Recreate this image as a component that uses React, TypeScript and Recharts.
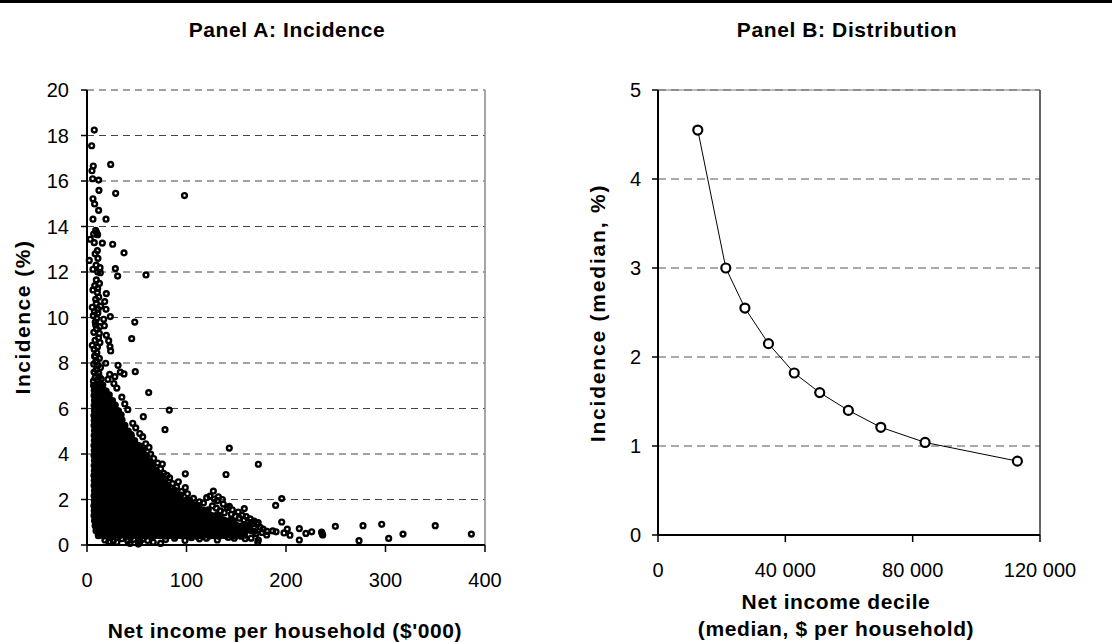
import { ScatterChart, Scatter, LineChart, Line, XAxis, YAxis, CartesianGrid, ReferenceLine } from 'recharts';

const FONT = '"Liberation Sans", Arial, Helvetica, sans-serif';

// Panel A: ticks
const incomeTicksA = [0, 100, 200, 300, 400];
const incidenceTicksA = [0, 2, 4, 6, 8, 10, 12, 14, 16, 18, 20];

// Panel A: [net income $'000, incidence %]
const sparseHighIncidence = [
  [7.3, 18.24], [4.7, 17.55], [6.3, 16.66], [5, 16.45], [5.7, 16.1], [11.7, 16.04], [23.8, 16.73], [12, 15.59],
  [28.8, 15.46], [98, 15.36], [6, 15.22], [7.7, 14.99], [11.7, 14.71], [6, 14.32], [19.1, 14.32], [8.7, 13.83],
  [9.7, 13.73], [10.7, 13.64], [6.7, 13.67], [3.3, 13.44], [7.3, 13.29], [15.4, 13.27], [25.8, 13.22], [37.2, 12.84],
  [10.4, 12.94], [2.3, 12.51], [11, 12.6], [13.1, 12.19], [6, 12.12], [28.5, 12.15], [30.8, 11.82], [13.4, 11.97],
  [59.3, 11.87], [9.4, 11.65], [6, 11.21], [10.7, 11.28], [10.4, 11.1], [19.4, 11.05], [9.4, 10.62], [17.8, 10.7],
  [5.3, 10.45], [11.1, 10.36], [19.1, 10.36], [6.4, 10.08], [23.4, 10.04], [48, 9.8], [9.7, 9.96], [16.8, 9.92],
  [17.4, 9.64], [8.7, 9.67], [12.4, 9.3], [19.4, 9.22], [44.9, 9.07], [5.3, 8.78], [21.8, 8.98], [23.1, 8.72],
  [23.8, 8.53], [8.4, 8.3], [9.5, 8.1], [18.8, 7.99], [31.2, 7.9], [33.5, 7.6], [37.2, 7.52], [48.5, 7.62],
  [22.8, 7.5], [28, 7.4], [21, 7.28],
];

const columnFill = [
  [6.5, 7.2], [8.2, 7.35], [10.1, 7.25], [12.3, 7.4], [7.1, 7.6], [9.4, 7.7], [11.8, 7.55], [14.2, 7.3],
  [6.8, 7.95], [8.9, 8.05], [11, 7.9], [13.5, 7.8], [7.6, 8.3], [9.9, 8.45], [12.4, 8.2], [7.2, 8.6],
  [10.5, 8.7], [13, 8.9], [8.1, 9.0], [11.6, 9.1], [6.9, 9.35], [9.6, 9.5], [12.8, 9.6], [8.3, 9.8],
  [10.9, 10.2], [7.5, 10.25], [13.6, 10.5], [8.7, 10.8], [11.8, 10.9], [7.8, 11.4], [12.5, 11.5], [9.2, 12.3],
  [10.8, 12.0], [8.2, 12.8],
];

const denseBelowOne = [
  [11.4, 0.41], [14.2, 0.44], [17.5, 0.4], [20.3, 0.45], [23.6, 0.42], [26.4, 0.39], [29.8, 0.44], [32.7, 0.41],
  [35.9, 0.46], [38.8, 0.4], [42.1, 0.43], [45, 0.38], [48.3, 0.45], [51.2, 0.42], [54.6, 0.4], [57.5, 0.44],
  [60.7, 0.41], [63.9, 0.46], [66.8, 0.39], [70.1, 0.43], [73.2, 0.41], [76.4, 0.45], [79.3, 0.4], [82.6, 0.42],
  [85.5, 0.44], [88.9, 0.39], [91.8, 0.43], [95.1, 0.41], [98.2, 0.45], [101.4, 0.4], [104.3, 0.42], [107.7, 0.44],
  [110.6, 0.39], [113.9, 0.43], [116.8, 0.41], [120.2, 0.46], [123.1, 0.4], [126.4, 0.42], [129.5, 0.44], [132.8, 0.39],
  [135.7, 0.43], [139, 0.41], [142.1, 0.45], [145.4, 0.4], [148.3, 0.42], [151.6, 0.44], [154.8, 0.39], [158.2, 0.43],
  [9.1, 0.63], [12.3, 0.66], [15.2, 0.62], [18.6, 0.65], [21.5, 0.61], [24.8, 0.67], [27.7, 0.63], [31, 0.65],
  [33.9, 0.62], [37.2, 0.66], [40.1, 0.64], [43.5, 0.61], [46.4, 0.66], [49.7, 0.63], [52.6, 0.65], [56, 0.62],
  [58.9, 0.67], [62.2, 0.64], [65.1, 0.61], [68.5, 0.65], [71.4, 0.63], [74.7, 0.66], [77.6, 0.62], [81, 0.64],
  [83.9, 0.67], [87.2, 0.63], [90.1, 0.65], [93.5, 0.61], [96.4, 0.66], [99.7, 0.64], [102.6, 0.62], [106, 0.65],
  [108.9, 0.63], [112.2, 0.67], [115.1, 0.62], [118.5, 0.64], [121.4, 0.66], [124.7, 0.61], [127.6, 0.65], [131, 0.63],
  [133.9, 0.66], [137.2, 0.62], [140.1, 0.64], [143.5, 0.67], [146.4, 0.63], [149.7, 0.61], [152.6, 0.65], [156, 0.64],
  [158.9, 0.62], [162.2, 0.66], [165.4, 0.63], [168.3, 0.6],
  [8.2, 0.85], [11, 0.88], [14.3, 0.84], [17.1, 0.87], [20.5, 0.85], [23.4, 0.89], [26.6, 0.84], [29.5, 0.86],
  [32.9, 0.88], [35.8, 0.83], [39.1, 0.87], [42, 0.85], [45.4, 0.89], [48.3, 0.84], [51.5, 0.86], [54.4, 0.88],
  [57.8, 0.83], [60.7, 0.87], [63.9, 0.85], [66.8, 0.89], [70.2, 0.84], [73.1, 0.86], [76.3, 0.88], [79.2, 0.83],
  [82.6, 0.87], [85.5, 0.85], [88.7, 0.89], [91.6, 0.84], [95, 0.86], [97.9, 0.88], [101.1, 0.83], [104, 0.87],
  [107.4, 0.85], [110.3, 0.89], [113.5, 0.84], [116.4, 0.86], [119.8, 0.88], [122.7, 0.83], [125.9, 0.87], [128.8, 0.85],
  [132.2, 0.89], [135.1, 0.84], [138.3, 0.86], [141.2, 0.88], [144.6, 0.83], [147.5, 0.87], [150.7, 0.85], [153.6, 0.82],
  [157, 0.88], [160.1, 0.84], [163.3, 0.86],
];

const denseOneToThree = [
  [7.6, 1.07], [10.5, 1.1], [13.7, 1.06], [16.6, 1.09], [20, 1.05], [22.9, 1.11], [26.1, 1.07], [29, 1.09],
  [32.4, 1.06], [35.3, 1.1], [38.5, 1.05], [41.4, 1.08], [44.8, 1.11], [47.7, 1.06], [50.9, 1.09], [53.8, 1.07],
  [57.2, 1.1], [60.1, 1.05], [63.3, 1.08], [66.2, 1.11], [69.6, 1.06], [72.5, 1.09], [75.7, 1.07], [78.6, 1.1],
  [82, 1.05], [84.9, 1.08], [88.1, 1.11], [91, 1.06], [94.4, 1.09], [97.3, 1.07], [100.5, 1.1], [103.4, 1.05],
  [106.8, 1.08], [109.7, 1.11], [112.9, 1.06], [115.8, 1.09], [119.2, 1.07], [122.1, 1.1], [125.3, 1.05], [128.2, 1.08],
  [131.6, 1.11], [134.5, 1.06], [137.7, 1.09], [140.6, 1.04], [144, 1.08], [147.2, 1.05],
  [7.1, 1.29], [10.2, 1.32], [13.1, 1.28], [16.4, 1.31], [19.3, 1.27], [22.6, 1.33], [25.5, 1.29], [28.8, 1.31],
  [31.7, 1.28], [35, 1.32], [37.9, 1.3], [41.2, 1.27], [44.1, 1.33], [47.4, 1.29], [50.3, 1.31], [53.6, 1.28],
  [56.5, 1.32], [59.8, 1.3], [62.7, 1.27], [66, 1.33], [68.9, 1.29], [72.2, 1.31], [75.1, 1.28], [78.4, 1.32],
  [81.3, 1.3], [84.6, 1.27], [87.5, 1.33], [90.8, 1.29], [93.7, 1.31], [97, 1.28], [99.9, 1.32], [103.2, 1.3],
  [106.1, 1.27], [109.4, 1.33], [112.3, 1.29], [115.6, 1.31], [118.5, 1.28], [121.8, 1.32], [124.7, 1.3], [128, 1.27],
  [130.9, 1.33], [133.8, 1.29],
  [7.3, 1.51], [10.6, 1.54], [13.5, 1.5], [16.8, 1.53], [19.7, 1.49], [23, 1.55], [25.9, 1.51], [29.2, 1.53],
  [32.1, 1.5], [35.4, 1.54], [38.3, 1.52], [41.6, 1.49], [44.5, 1.55], [47.8, 1.51], [50.7, 1.53], [54, 1.5],
  [56.9, 1.54], [60.2, 1.52], [63.1, 1.49], [66.4, 1.55], [69.3, 1.51], [72.6, 1.53], [75.5, 1.5], [78.8, 1.54],
  [81.7, 1.52], [85, 1.49], [87.9, 1.55], [91.2, 1.51], [94.1, 1.53], [97.4, 1.5], [100.3, 1.54], [103.6, 1.52],
  [106.5, 1.49], [109.8, 1.55], [112.7, 1.51], [116, 1.53], [118.9, 1.5], [121.8, 1.54],
  [7, 1.73], [10.1, 1.76], [13, 1.72], [16.3, 1.75], [19.2, 1.71], [22.5, 1.77], [25.4, 1.73], [28.7, 1.75],
  [31.6, 1.72], [34.9, 1.76], [37.8, 1.74], [41.1, 1.71], [44, 1.77], [47.3, 1.73], [50.2, 1.75], [53.5, 1.72],
  [56.4, 1.76], [59.7, 1.74], [62.6, 1.71], [65.9, 1.77], [68.8, 1.73], [72.1, 1.75], [75, 1.72], [78.3, 1.76],
  [81.2, 1.74], [84.5, 1.71], [87.4, 1.77], [90.7, 1.73], [93.6, 1.75], [96.9, 1.72], [99.8, 1.76], [103.1, 1.74],
  [106, 1.71], [109.3, 1.77], [112.2, 1.73],
  [7.4, 1.95], [10.7, 1.98], [13.6, 1.94], [16.9, 1.97], [19.8, 1.93], [23.1, 1.99], [26, 1.95], [29.3, 1.97],
  [32.2, 1.94], [35.5, 1.98], [38.4, 1.96], [41.7, 1.93], [44.6, 1.99], [47.9, 1.95], [50.8, 1.97], [54.1, 1.94],
  [57, 1.98], [60.3, 1.96], [63.2, 1.93], [66.5, 1.99], [69.4, 1.95], [72.7, 1.97], [75.6, 1.94], [78.9, 1.98],
  [81.8, 1.96], [85.1, 1.93], [88, 1.99], [91.3, 1.95], [94.2, 1.97], [97.5, 1.94], [100.4, 1.98], [103.3, 1.95],
  [7.2, 2.17], [10.3, 2.2], [13.4, 2.16], [16.5, 2.19], [19.6, 2.15], [22.7, 2.21], [25.8, 2.17], [28.9, 2.19],
  [32, 2.16], [35.1, 2.2], [38.2, 2.18], [41.3, 2.15], [44.4, 2.21], [47.5, 2.17], [50.6, 2.19], [53.7, 2.16],
  [56.8, 2.2], [59.9, 2.18], [63, 2.15], [66.1, 2.21], [69.2, 2.17], [72.3, 2.19], [75.4, 2.16], [78.5, 2.2],
  [81.6, 2.18], [84.7, 2.15], [87.8, 2.21], [90.9, 2.17], [94, 2.19],
  [7.5, 2.39], [10.8, 2.42], [13.7, 2.38], [17, 2.41], [19.9, 2.37], [23.2, 2.43], [26.1, 2.39], [29.4, 2.41],
  [32.3, 2.38], [35.6, 2.42], [38.5, 2.4], [41.8, 2.37], [44.7, 2.43], [48, 2.39], [50.9, 2.41], [54.2, 2.38],
  [57.1, 2.42], [60.4, 2.4], [63.3, 2.37], [66.6, 2.43], [69.5, 2.39], [72.8, 2.41], [75.7, 2.38], [79, 2.42],
  [81.9, 2.4], [85.2, 2.37], [87.9, 2.41],
  [7.1, 2.61], [10.4, 2.64], [13.3, 2.6], [16.6, 2.63], [19.5, 2.59], [22.8, 2.65], [25.7, 2.61], [29, 2.63],
  [31.9, 2.6], [35.2, 2.64], [38.1, 2.62], [41.4, 2.59], [44.3, 2.65], [47.6, 2.61], [50.5, 2.63], [53.8, 2.6],
  [56.7, 2.64], [60, 2.62], [62.9, 2.59], [66.2, 2.65], [69.1, 2.61], [72.4, 2.63], [75.3, 2.6], [78.6, 2.64],
  [81.5, 2.61],
  [7.3, 2.83], [10.6, 2.86], [13.5, 2.82], [16.8, 2.85], [19.7, 2.81], [23, 2.87], [25.9, 2.83], [29.2, 2.85],
  [32.1, 2.82], [35.4, 2.86], [38.3, 2.84], [41.6, 2.81], [44.5, 2.87], [47.8, 2.83], [50.7, 2.85], [54, 2.82],
  [56.9, 2.86], [60.2, 2.84], [63.1, 2.81], [66.4, 2.87], [69.3, 2.83], [72.6, 2.85], [75.5, 2.82], [78.4, 2.86],
];

const denseThreeToSeven = [
  [7, 3.05], [10.1, 3.08], [13.2, 3.04], [16.3, 3.07], [19.4, 3.03], [22.5, 3.09], [25.6, 3.05], [28.7, 3.07],
  [31.8, 3.04], [34.9, 3.08], [38, 3.06], [41.1, 3.03], [44.2, 3.09], [47.3, 3.05], [50.4, 3.07], [53.5, 3.04],
  [56.6, 3.08], [59.7, 3.06], [62.8, 3.03], [65.9, 3.09], [69, 3.05], [72.1, 3.07], [74.8, 3.04],
  [7.4, 3.27], [10.7, 3.3], [13.6, 3.26], [16.9, 3.29], [19.8, 3.25], [23.1, 3.31], [26, 3.27], [29.3, 3.29],
  [32.2, 3.26], [35.5, 3.3], [38.4, 3.28], [41.7, 3.25], [44.6, 3.31], [47.9, 3.27], [50.8, 3.29], [54.1, 3.26],
  [57, 3.3], [60.3, 3.28], [63.2, 3.25], [66.5, 3.31], [69.4, 3.27],
  [7.2, 3.49], [10.3, 3.52], [13.4, 3.48], [16.5, 3.51], [19.6, 3.47], [22.7, 3.53], [25.8, 3.49], [28.9, 3.51],
  [32, 3.48], [35.1, 3.52], [38.2, 3.5], [41.3, 3.47], [44.4, 3.53], [47.5, 3.49], [50.6, 3.51], [53.7, 3.48],
  [56.8, 3.52], [59.9, 3.5], [63, 3.47], [66.1, 3.53],
  [7.5, 3.71], [10.8, 3.74], [13.7, 3.7], [17, 3.73], [19.9, 3.69], [23.2, 3.75], [26.1, 3.71], [29.4, 3.73],
  [32.3, 3.7], [35.6, 3.74], [38.5, 3.72], [41.8, 3.69], [44.7, 3.75], [48, 3.71], [50.9, 3.73], [54.2, 3.7],
  [57.1, 3.74], [60.4, 3.72], [63.3, 3.69],
  [7.1, 3.93], [10.4, 3.96], [13.3, 3.92], [16.6, 3.95], [19.5, 3.91], [22.8, 3.97], [25.7, 3.93], [29, 3.95],
  [31.9, 3.92], [35.2, 3.96], [38.1, 3.94], [41.4, 3.91], [44.3, 3.97], [47.6, 3.93], [50.5, 3.95], [53.8, 3.92],
  [56.7, 3.96], [59.6, 3.93],
  [7.3, 4.15], [10.6, 4.18], [13.5, 4.14], [16.8, 4.17], [19.7, 4.13], [23, 4.19], [25.9, 4.15], [29.2, 4.17],
  [32.1, 4.14], [35.4, 4.18], [38.3, 4.16], [41.6, 4.13], [44.5, 4.19], [47.8, 4.15], [50.7, 4.17], [54, 4.14],
  [56.6, 4.18],
  [7, 4.37], [10.1, 4.4], [13.2, 4.36], [16.3, 4.39], [19.4, 4.35], [22.5, 4.41], [25.6, 4.37], [28.7, 4.39],
  [31.8, 4.36], [34.9, 4.4], [38, 4.38], [41.1, 4.35], [44.2, 4.41], [47.3, 4.37], [50.4, 4.39], [52.8, 4.36],
  [7.4, 4.59], [10.7, 4.62], [13.6, 4.58], [16.9, 4.61], [19.8, 4.57], [23.1, 4.63], [26, 4.59], [29.3, 4.61],
  [32.2, 4.58], [35.5, 4.62], [38.4, 4.6], [41.7, 4.57], [44.6, 4.63], [47.9, 4.59],
  [7.2, 4.81], [10.3, 4.84], [13.4, 4.8], [16.5, 4.83], [19.6, 4.79], [22.7, 4.85], [25.8, 4.81], [28.9, 4.83],
  [32, 4.8], [35.1, 4.84], [38.2, 4.82], [41.3, 4.79], [44.4, 4.85],
  [7.5, 5.03], [10.8, 5.06], [13.7, 5.02], [17, 5.05], [19.9, 5.01], [23.2, 5.07], [26.1, 5.03], [29.4, 5.05],
  [32.3, 5.02], [35.6, 5.06], [38.5, 5.04], [41.5, 5.01],
  [7.1, 5.25], [10.4, 5.28], [13.3, 5.24], [16.6, 5.27], [19.5, 5.23], [22.8, 5.29], [25.7, 5.25], [29, 5.27],
  [31.9, 5.24], [35.2, 5.28], [38.1, 5.26],
  [7.3, 5.47], [10.6, 5.5], [13.5, 5.46], [16.8, 5.49], [19.7, 5.45], [23, 5.51], [25.9, 5.47], [29.2, 5.49],
  [32.1, 5.46], [35.2, 5.5],
  [7, 5.69], [10.1, 5.72], [13.2, 5.68], [16.3, 5.71], [19.4, 5.67], [22.5, 5.73], [25.6, 5.69], [28.7, 5.71],
  [31.8, 5.68], [34.3, 5.72],
  [7.4, 5.91], [10.7, 5.94], [13.6, 5.9], [16.9, 5.93], [19.8, 5.89], [23.1, 5.95], [26, 5.91], [29.3, 5.93],
  [31.6, 5.9],
  [7.2, 6.13], [10.3, 6.16], [13.4, 6.12], [16.5, 6.15], [19.6, 6.11], [22.7, 6.17], [25.8, 6.13], [28.4, 6.15],
  [7.5, 6.35], [10.8, 6.38], [13.7, 6.34], [17, 6.37], [19.9, 6.33], [23.2, 6.39], [25.6, 6.35],
  [7.1, 6.57], [10.4, 6.6], [13.3, 6.56], [16.6, 6.59], [19.5, 6.55], [22.4, 6.6],
  [7.3, 6.79], [10.6, 6.82], [13.5, 6.78], [16.8, 6.81], [19.2, 6.77],
  [6.6, 7.01], [9.9, 7.04], [12.8, 7.0], [15.9, 7.03],
];

const edgeAndTail = [
  [62, 6.7], [82.7, 5.93], [56.6, 5.64], [78.4, 5.07], [56, 4.76], [44.5, 4.76], [62.3, 4.29], [143, 4.26],
  [75.7, 3.56], [172.2, 3.55], [80.4, 3.06], [98.8, 3.13], [139.7, 3.1], [91.8, 2.78], [98.8, 2.52], [127, 2.37],
  [120.3, 2.08], [123.6, 2.15], [132, 2.12], [195.7, 2.04], [189.6, 1.74], [158.1, 1.6], [141, 1.64], [195.7, 1.01],
  [198, 0.53], [201.3, 0.7], [204, 0.43], [213.4, 0.72], [213.4, 0.22], [220, 0.51], [225.8, 0.58], [235.8, 0.57],
  [236.9, 0.44], [236.3, 0.5], [249.6, 0.82], [273.4, 0.19], [277.4, 0.85], [296.2, 0.91], [303.2, 0.29], [317.6, 0.48],
  [350, 0.85], [386.3, 0.48],
  [38, 6.2], [41, 5.95], [35, 6.5], [30, 6.9], [27, 7.1], [46, 5.35], [49, 5.15], [53, 4.9],
  [59, 4.45], [64, 4.0], [67, 3.8], [71, 3.6], [74, 3.35], [77, 3.15], [83, 2.95], [86, 2.7],
  [90, 2.55], [95, 2.35], [101, 2.25], [107, 2.05], [113, 1.9], [117, 1.85], [126, 1.72], [130, 1.62],
  [134, 1.5], [138, 1.42], [145, 1.35], [149, 1.25], [153, 1.18], [158, 1.1], [162, 1.02], [167, 0.95],
  [171, 0.9], [174, 0.78], [177, 0.7], [181, 0.6], [186.6, 0.62], [180.6, 0.44], [165, 0.3], [170, 0.5],
  [176, 0.55], [190, 0.58], [131, 1.95], [128, 2.02], [137, 1.8], [143, 1.7], [136, 2.0], [146, 1.55],
  [152, 1.45], [156, 1.3], [160, 1.25], [164, 1.15], [168, 1.05], [172, 0.98],
];

const bottomFringe = [
  [18, 0.22], [22, 0.14], [23.1, 0.12], [26.4, 0.18], [30, 0.12], [35, 0.28], [41, 0.18], [43.2, 0.07],
  [47, 0.25], [51.6, 0.04], [53.3, 0.15], [56, 0.26], [61, 0.2], [66.6, 0.12], [74, 0.07], [79, 0.24],
  [98.5, 0.2], [113, 0.27], [131, 0.22], [148, 0.3], [159, 0.28], [172.2, 0.22], [171.6, 0.12], [142, 0.33],
  [120, 0.3], [88, 0.3], [105, 0.32], [10.4, 0.85],
];

// Panel B: decile medians
const incomeTicksB = [0, 40000, 80000, 120000];
const incidenceTicksB = [0, 1, 2, 3, 4, 5];
const decileMedianIncome = [12500, 21300, 27300, 34700, 42800, 50800, 59800, 70000, 83900, 112900];
const decileMedianIncidence = [4.55, 3.0, 2.55, 2.15, 1.82, 1.6, 1.4, 1.21, 1.04, 0.83];

const toXY = (pts: number[][]) => pts.map(([x, y]) => ({ x, y }));

// the overlapping core, where the circles merge into a solid mass
const coreData = toXY([...denseBelowOne, ...denseOneToThree, ...denseThreeToSeven]);
const looseData = toXY([...sparseHighIncidence, ...columnFill, ...edgeAndTail, ...bottomFringe]);

const decileData = decileMedianIncome.map((income, i) => ({ income, incidence: decileMedianIncidence[i] }));

const tickStyle = { fill: '#000', fontSize: 20, fontFamily: FONT };

function Ring(props: any) {
  const { cx, cy } = props;
  if (cx == null || cy == null) return null;
  return <circle cx={cx} cy={cy} r={2.4} fill="none" stroke="#000" strokeWidth={2.4} />;
}

function CoreRing(props: any) {
  const { cx, cy } = props;
  if (cx == null || cy == null) return null;
  return <circle cx={cx} cy={cy} r={2.6} fill="#000" stroke="#000" strokeWidth={2} />;
}

function spaced(v: number) {
  return String(v).replace(/\B(?=(\d{3})+(?!\d))/g, ' ');
}

function Label({ x, y, text, spacing = 0.6, rotate = false }: { x: number; y: number; text: string; spacing?: number; rotate?: boolean }) {
  return (
    <div
      style={{
        position: 'absolute',
        left: x,
        top: y,
        transform: `translate(-50%, -50%)${rotate ? ' rotate(-90deg)' : ''}`,
        whiteSpace: 'nowrap',
        fontFamily: FONT,
        fontWeight: 'bold',
        fontSize: 21,
        letterSpacing: spacing,
        lineHeight: 1,
        color: '#000',
      }}
    >
      {text}
    </div>
  );
}

export default function App() {
  return (
    <div style={{ position: 'absolute', left: 0, top: 0, width: 1112, height: 642, background: '#fff', overflow: 'hidden' }}>
      <div style={{ position: 'absolute', left: 0, top: 0, width: 1112, height: 3, background: '#000' }} />

      <div style={{ position: 'absolute', left: 0, top: 0 }}>
        <ScatterChart width={560} height={642} margin={{ top: 90, right: 75, bottom: 57, left: 27 }}>
          <CartesianGrid vertical={false} stroke="#444" strokeDasharray="7 5" />
          <ReferenceLine x={400} stroke="#888" strokeWidth={1.5} />
          <XAxis
            type="number"
            dataKey="x"
            domain={[0, 400]}
            ticks={incomeTicksA}
            height={40}
            tickSize={7}
            tickMargin={21}
            tick={tickStyle}
            axisLine={{ stroke: '#000', strokeWidth: 2 }}
            tickLine={{ stroke: '#000', strokeWidth: 1.5 }}
          />
          <YAxis
            type="number"
            dataKey="y"
            domain={[0, 20]}
            ticks={incidenceTicksA}
            width={60}
            tickSize={6}
            tickMargin={12}
            tick={tickStyle}
            axisLine={{ stroke: '#000', strokeWidth: 2 }}
            tickLine={{ stroke: '#000', strokeWidth: 1.5 }}
          />
          <Scatter data={coreData} shape={CoreRing} isAnimationActive={false} />
          <Scatter data={looseData} shape={Ring} isAnimationActive={false} />
        </ScatterChart>
      </div>

      <div style={{ position: 'absolute', left: 560, top: 0 }}>
        <LineChart width={552} height={642} data={decileData} margin={{ top: 90, right: 72, bottom: 67, left: 38 }}>
          <CartesianGrid vertical={false} stroke="#555" strokeDasharray="8 5" />
          <ReferenceLine x={120000} stroke="#333" strokeWidth={1.5} />
          <ReferenceLine y={5} stroke="#777" strokeWidth={1} />
          <XAxis
            type="number"
            dataKey="income"
            domain={[0, 120000]}
            ticks={incomeTicksB}
            tickFormatter={spaced}
            height={40}
            tickSize={7}
            tickMargin={21}
            tick={tickStyle}
            axisLine={{ stroke: '#000', strokeWidth: 2 }}
            tickLine={{ stroke: '#000', strokeWidth: 1.5 }}
          />
          <YAxis
            type="number"
            domain={[0, 5]}
            ticks={incidenceTicksB}
            width={60}
            tickSize={6}
            tickMargin={11}
            tick={tickStyle}
            axisLine={{ stroke: '#000', strokeWidth: 2 }}
            tickLine={{ stroke: '#000', strokeWidth: 1.5 }}
          />
          <Line
            dataKey="incidence"
            stroke="#000"
            strokeWidth={1}
            dot={{ r: 4.5, fill: '#fff', stroke: '#000', strokeWidth: 2.2 }}
            isAnimationActive={false}
          />
        </LineChart>
      </div>

      <Label x={287} y={29} text="Panel A: Incidence" />
      <Label x={847} y={29} text="Panel B: Distribution" />
      <Label x={285} y={630} text="Net income per household ($'000)" />
      <Label x={836} y={601} text="Net income decile" />
      <Label x={836} y={628} text="(median, $ per household)" />
      <Label x={22} y={317} text="Incidence (%)" spacing={1.5} rotate />
      <Label x={597} y={313} text="Incidence (median, %)" spacing={1.8} rotate />
    </div>
  );
}
